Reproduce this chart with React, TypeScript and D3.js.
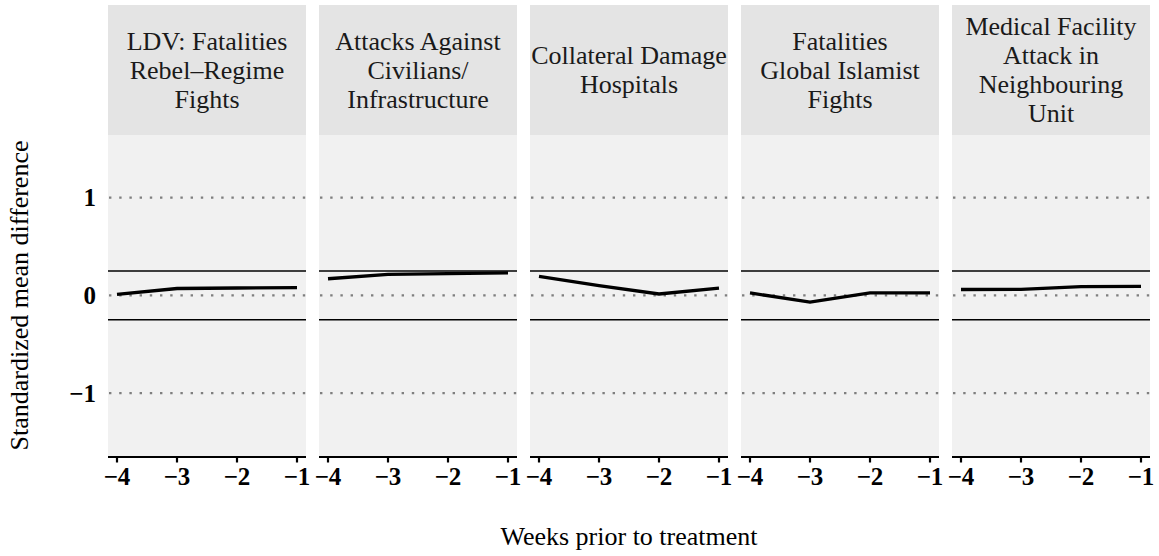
import React from "react";
import * as d3 from "d3";

const weeks = [-4, -3, -2, -1];
const stripLabels: string[][] = [
  ["LDV: Fatalities", "Rebel\u2013Regime", "Fights"],
  ["Attacks Against", "Civilians/", "Infrastructure"],
  ["Collateral Damage", "Hospitals"],
  ["Fatalities", "Global Islamist", "Fights"],
  ["Medical Facility", "Attack in", "Neighbouring", "Unit"],
];
const ldvRebelRegime = [0.01, 0.07, 0.075, 0.08];
const attacksCivilians = [0.17, 0.215, 0.222, 0.23];
const collateralHospitals = [0.195, 0.1, 0.014, 0.075];
const fatalitiesIslamist = [0.025, -0.07, 0.025, 0.025];
const medicalNeighbour = [0.06, 0.062, 0.09, 0.092];
const seriesValues = [ldvRebelRegime, attacksCivilians, collateralHospitals, fatalitiesIslamist, medicalNeighbour];
const yTicks = [-1, 0, 1];
const thresholds = [-0.25, 0.25];
const xTicks = [-4, -3, -2, -1];

const W = 1159;
const H = 556;
const panelLeft = 108;
const panelW = 198;
const panelStep = 211;
const stripTop = 5;
const plotTop = 135;
const plotBottom = 456;
const FONT = "'Liberation Serif', 'Times New Roman', serif";

export default function App() {
  const x = d3.scaleLinear().domain([-4.15, -0.85]).range([0, panelW]);
  const y = d3.scaleLinear().domain([-1.643, 1.64]).range([plotBottom, plotTop]);
  const fmt = d3.format("d");
  const line = d3
    .line<number>()
    .x((_, i) => x(weeks[i]))
    .y((d) => y(d));

  return (
    <svg
      width={W}
      height={H}
      style={{ position: "absolute", left: 0, top: 0, background: "#fff" }}
      fontFamily={FONT}
    >
      {stripLabels.map((lines, p) => {
        const x0 = panelLeft + p * panelStep;
        const center = (stripTop + plotTop) / 2;
        const spacing = 29;
        return (
          <g key={p} transform={`translate(${x0},0)`}>
            <rect x={0} y={stripTop} width={panelW} height={plotTop - stripTop} fill="#E4E4E4" />
            {lines.map((t, i) => (
              <text
                key={i}
                x={panelW / 2}
                y={center + 8.5 + (i - (lines.length - 1) / 2) * spacing}
                textAnchor="middle"
                fontSize={26}
                fill="#1a1a1a"
              >
                {t}
              </text>
            ))}
            <rect x={0} y={plotTop} width={panelW} height={plotBottom - plotTop} fill="#F1F1F1" />
            {yTicks.map((v) => (
              <line
                key={v}
                x1={0}
                x2={panelW}
                y1={y(v)}
                y2={y(v)}
                stroke="#7f7f7f"
                strokeWidth={2.4}
                strokeDasharray="2.4 7.8"
                strokeDashoffset={-1}
              />
            ))}
            {thresholds.map((v) => (
              <line key={v} x1={0} x2={panelW} y1={y(v)} y2={y(v)} stroke="#000" strokeWidth={1.5} />
            ))}
            <path d={line(seriesValues[p]) || ""} fill="none" stroke="#000" strokeWidth={3.3} />
            <line x1={0} x2={panelW} y1={plotBottom + 1} y2={plotBottom + 1} stroke="#000" strokeWidth={2.2} />
            {xTicks.map((v) => (
              <g key={v}>
                <line x1={x(v)} x2={x(v)} y1={plotBottom + 1} y2={plotBottom + 6.5} stroke="#000" strokeWidth={2.2} />
                <text x={x(v)} y={485} textAnchor="middle" fontSize={25} fontWeight="bold" fill="#000">
                  {fmt(v)}
                </text>
              </g>
            ))}
          </g>
        );
      })}
      {yTicks.map((v) => (
        <text key={v} x={96} y={y(v) + 8.5} textAnchor="end" fontSize={25} fontWeight="bold" fill="#000">
          {fmt(v)}
        </text>
      ))}
      <text
        transform={`translate(28,${(plotTop + plotBottom) / 2}) rotate(-90)`}
        textAnchor="middle"
        fontSize={26}
        fill="#000"
      >
        Standardized mean difference
      </text>
      <text x={629} y={545} textAnchor="middle" fontSize={26} fill="#000">
        Weeks prior to treatment
      </text>
    </svg>
  );
}
